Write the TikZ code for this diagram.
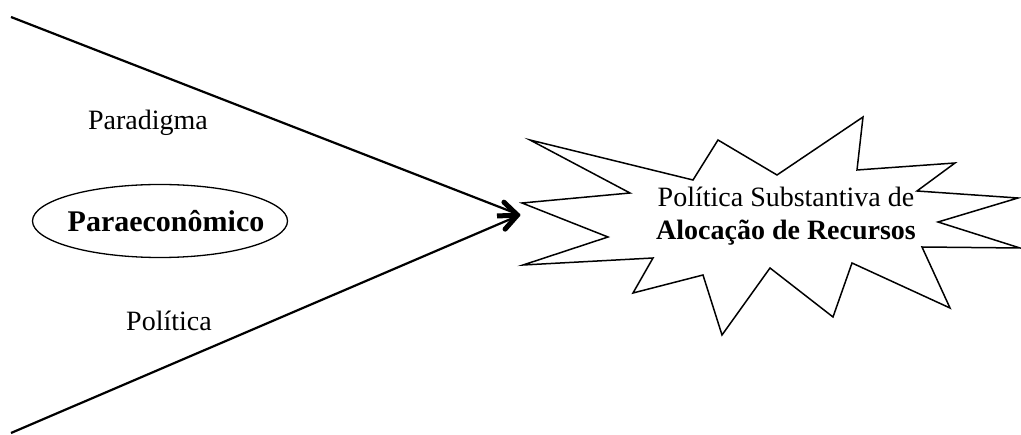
\documentclass[tikz,border=0pt]{standalone}
\usepackage{fontspec}
\setmainfont{Liberation Serif}
\usetikzlibrary{arrows.meta}
\begin{document}
\begin{tikzpicture}[x=1pt,y=-1pt,
  txt/.style={font=\fontsize{28}{33}\selectfont,inner sep=0pt},
  ray/.style={line width=2.2pt}]
\useasboundingbox (0,0) rectangle (1021,435);
\coordinate (T) at (11,17);
\coordinate (B) at (11,433);
\coordinate (P) at (520,215);
\draw[ray] (T) -- (P);
\draw[ray] (B) -- (P);
\draw[line width=5pt,-{Straight Barb[length=13pt,width=27pt,line cap=round,line join=round]}] (497,216) -- (P);
\node[txt] (par) at (148,123) {Paradigma};
\node[txt] (pol) at (169,321) {Política};
\coordinate (E) at (160,221);
\node[txt,font=\fontsize{30}{35}\selectfont\bfseries] (eco) at (166,221) {Paraeconômico};
\draw[line width=1.3pt] (E) ellipse [x radius=127.5, y radius=36.5];
% estrela
\draw[line width=1.5pt,line join=miter] (530,140) -- (693,180) -- (718,140) -- (777,175) -- (863,117) -- (857,170)
  -- (955,163) -- (917,191) -- (1018,198) -- (938,222) -- (1020,248) -- (922,247) -- (950,308)
  -- (852,263) -- (833,317) -- (770,268) -- (722,335) -- (703,275) -- (633,293) -- (653,258)
  -- (523,265) -- (608,237) -- (522,203) -- (630,193) -- cycle;
\node[txt,align=center] (alo) at (786,216) {Política Substantiva de\\\textbf{Alocação de Recursos}};
\end{tikzpicture}
\end{document}
